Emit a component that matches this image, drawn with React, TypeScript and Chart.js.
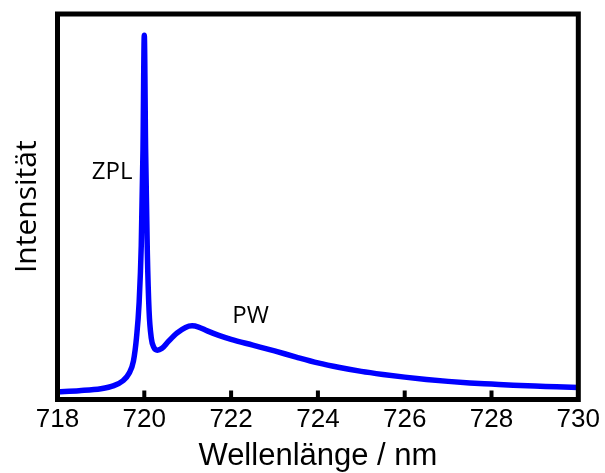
import React, { useEffect, useRef } from "react";
import { Chart, registerables } from "chart.js";

Chart.register(...registerables);

// Wavelength (nm) and intensity (normalized)
const wavelengths = [
  718.0, 718.5, 719.0, 719.3, 719.5, 719.65, 719.75, 719.82, 719.88, 719.93,
  719.97, 720.0, 720.03, 720.07, 720.11, 720.16, 720.22, 720.3, 720.4, 720.55,
  720.75, 720.95, 721.1, 721.25, 721.45, 721.7, 722.0, 722.5, 723.0, 723.5,
  724.0, 724.5, 725.0, 725.5, 726.0, 726.5, 727.0, 727.5, 728.0, 728.5,
  729.0, 729.5, 730.0,
];
const intensity = [
  0.02, 0.023, 0.028, 0.036, 0.048, 0.068, 0.1, 0.16, 0.25, 0.4,
  0.65, 0.945, 0.65, 0.38, 0.23, 0.16, 0.135, 0.128, 0.132, 0.15,
  0.172, 0.187, 0.191, 0.188, 0.178, 0.167, 0.156, 0.141, 0.126, 0.11,
  0.095, 0.083, 0.073, 0.065, 0.058, 0.052, 0.047, 0.043, 0.04, 0.037,
  0.035, 0.033, 0.031,
];
const xTickValues = [718, 720, 722, 724, 726, 728, 730];
const innerTickValues = [720, 722, 724, 726, 728];
const annotations = [
  { text: "ZPL", x: 719.26, y: 0.589 },
  { text: "PW", x: 722.45, y: 0.215 },
];

const framePlugin = {
  id: "frame",
  afterDraw(chart: any) {
    const ctx: CanvasRenderingContext2D = chart.ctx;
    const area = chart.chartArea;
    const xs = chart.scales.x;
    const ys = chart.scales.y;
    ctx.save();
    // frame
    ctx.strokeStyle = "#000000";
    ctx.lineWidth = 5;
    ctx.strokeRect(area.left, area.top, area.right - area.left, area.bottom - area.top);
    // inward ticks
    ctx.fillStyle = "#000000";
    for (const v of innerTickValues) {
      const px = xs.getPixelForValue(v);
      ctx.fillRect(px - 2, area.bottom - 9, 4, 9);
    }
    // annotations
    ctx.font = '24px "Open Sans"';
    ctx.textAlign = "center";
    ctx.textBaseline = "middle";
    for (const a of annotations) {
      ctx.fillText(a.text, xs.getPixelForValue(a.x), ys.getPixelForValue(a.y));
    }
    ctx.restore();
  },
};

export default function App() {
  const canvasRef = useRef<HTMLCanvasElement>(null);

  useEffect(() => {
    const canvas = canvasRef.current;
    if (!canvas) return;
    const chart = new Chart(canvas, {
      type: "line",
      data: {
        datasets: [
          {
            data: wavelengths.map((w, i) => ({ x: w, y: intensity[i] })),
            borderColor: "#0000ff",
            borderWidth: 5.5,
            pointRadius: 0,
            cubicInterpolationMode: "monotone",
            fill: false,
          },
        ],
      },
      options: {
        animation: false,
        responsive: false,
        maintainAspectRatio: false,
        layout: { padding: { top: 14, right: 25.5, left: 0, bottom: 0 } },
        plugins: { legend: { display: false }, tooltip: { enabled: false } },
        scales: {
          x: {
            type: "linear",
            min: 718,
            max: 730,
            afterBuildTicks: (s: any) => {
              s.ticks = xTickValues.map((v) => ({ value: v }));
            },
            afterFit: (s: any) => {
              s.height = 73.5;
            },
            grid: { display: false, drawTicks: false },
            border: { display: false },
            ticks: {
              color: "#000",
              padding: 5,
              maxRotation: 0,
              autoSkip: false,
              font: { family: '"Liberation Sans", Arial, sans-serif', size: 26 },
            },
            title: {
              display: true,
              text: "Wellenlänge / nm",
              color: "#000",
              padding: { top: 1, bottom: 1 },
              font: { family: '"Liberation Sans", Arial, sans-serif', size: 31, lineHeight: 1 },
            },
          },
          y: {
            type: "linear",
            min: 0,
            max: 1,
            afterFit: (s: any) => {
              s.width = 57.5;
            },
            grid: { display: false, drawTicks: false },
            border: { display: false },
            ticks: { display: false },
            title: {
              display: true,
              text: "Intensität",
              color: "#000",
              padding: { top: 12, bottom: 12 },
              font: { family: '"Open Sans", sans-serif', size: 30, lineHeight: 1 },
            },
          },
        },
      },
      plugins: [framePlugin],
    });
    return () => chart.destroy();
  }, []);

  return (
    <div style={{ position: "absolute", left: 0, top: 0, width: 605, height: 473, background: "#fff" }}>
      <canvas ref={canvasRef} width={605} height={473} />
    </div>
  );
}
